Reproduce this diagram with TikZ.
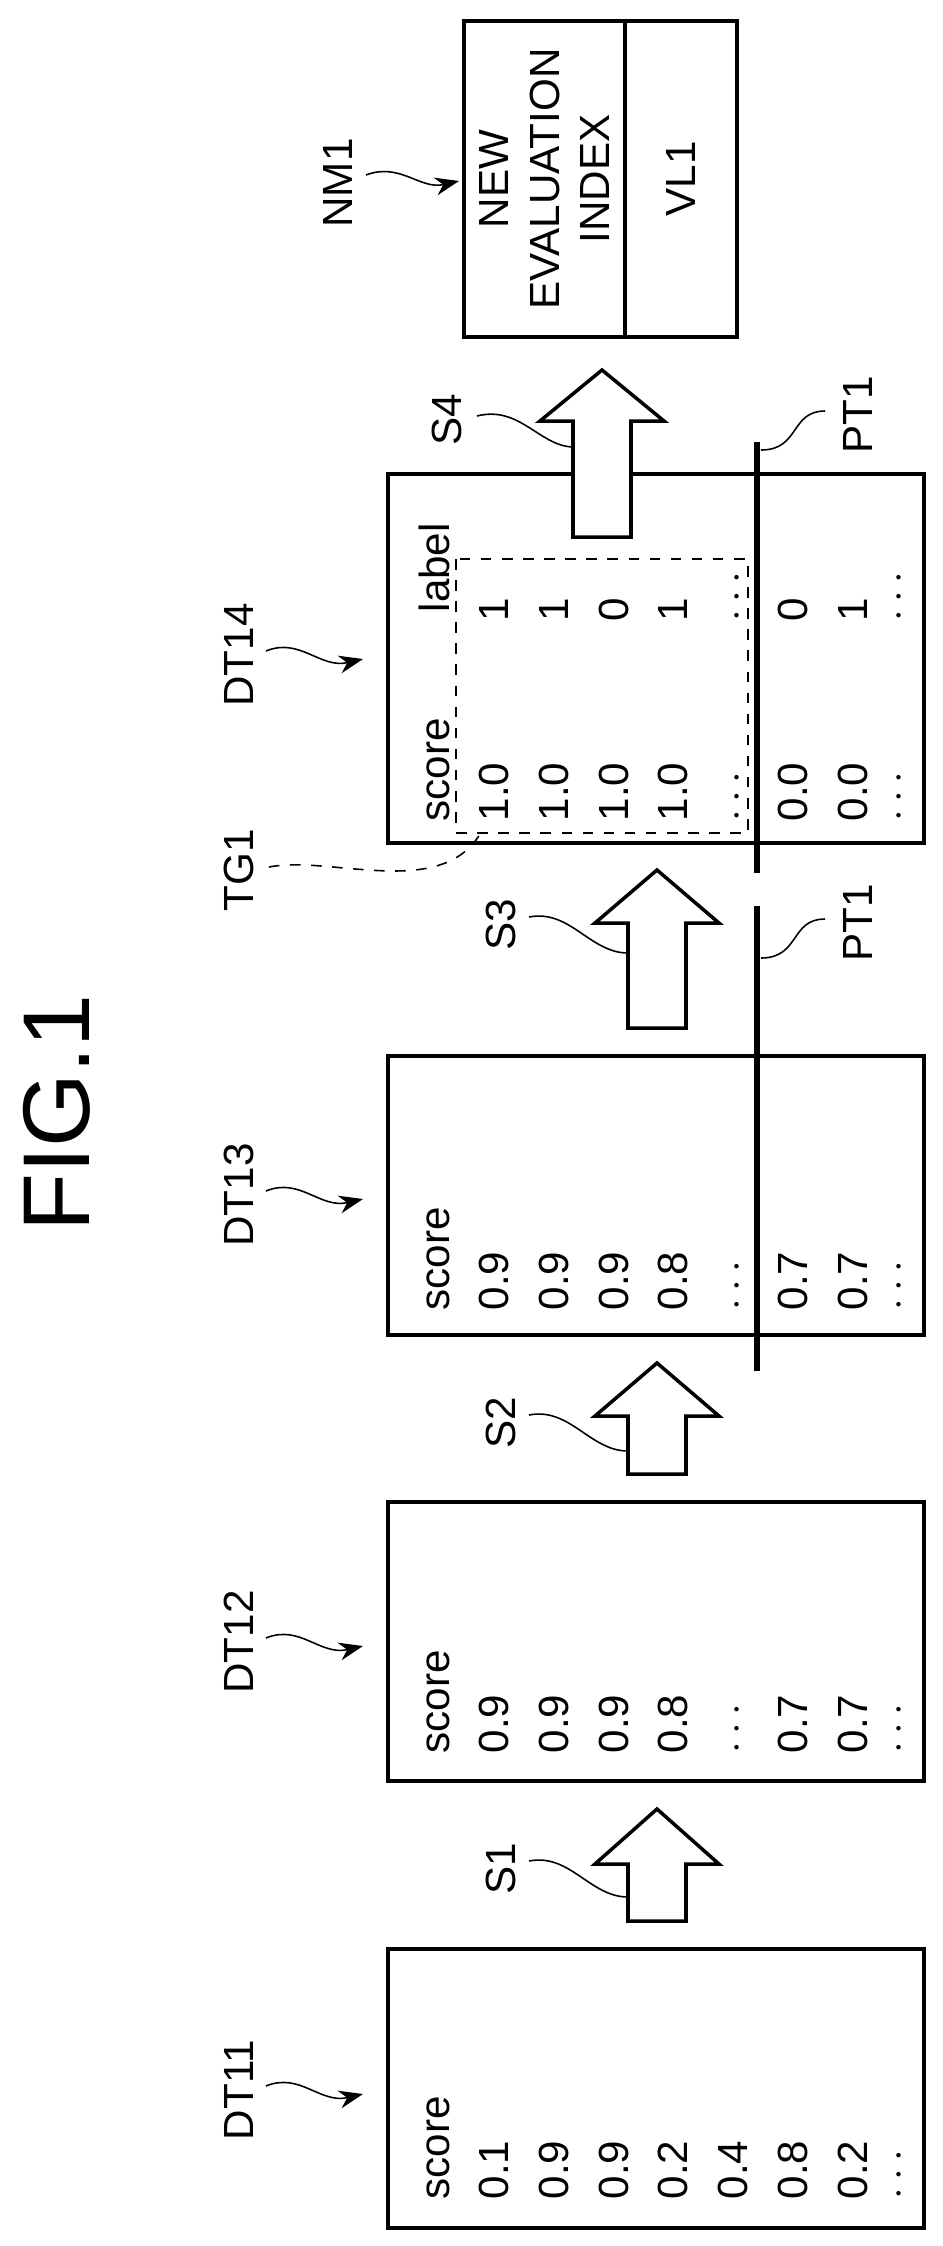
\documentclass[tikz,border=0pt]{standalone}
\usepackage{fontspec}
\setmainfont{Liberation Sans}
\usetikzlibrary{arrows.meta}

\newcommand{\steparrow}[4]{% centre x, tip, head base, shaft bottom
  \draw[step_arrow] ({#1-29},#4) -- ({#1-29},#3) -- ({#1-62},#3) -- (#1,#2)
    -- ({#1+62},#3) -- ({#1+29},#3) -- ({#1+29},#4) -- cycle;}

\begin{document}
\begin{tikzpicture}[x=0.1mm, y=-0.1mm,
        table_box/.style={draw=black, line width=1pt, minimum width=53.6mm, inner sep=0pt},
        cell/.style={rotate=90, anchor=west, inner sep=0pt, font=\fontsize{12}{14}\selectfont, text height=8.6pt, text depth=0pt},
        ref_label/.style={rotate=90, inner sep=1pt, font=\fontsize{12}{14}\selectfont},
        leader/.style={line width=0.45pt, -{Stealth[length=2.4mm, width=1.8mm]}},
        leader_plain/.style={line width=0.45pt},
        step_arrow/.style={draw=black, fill=white, line width=1pt, line join=miter},
        cut_line/.style={line width=1.8pt}
        ]
            \useasboundingbox (0,0) rectangle (943,2246);

            % title
            \node[rotate=90, font=\fontsize{27}{30}\selectfont] (fig) at (57,1113) {FIG.1};

            % tables
            \node[table_box, minimum height=27.9mm] (dt11) at (656,2088.5) {};
            \node[table_box, minimum height=27.9mm] (dt12) at (656,1641.5) {};
            \node[table_box, minimum height=27.9mm] (dt13) at (656,1195.5) {};
            \node[table_box, minimum height=36.9mm] (dt14) at (656,658.5)  {};

            % table contents
            \foreach \v [count=\i] in {score,0.1,0.9,0.9,0.2,0.4,0.8,0.2}
                \node[cell] (dt11_r\i) at ({434+59.7*(\i-1)},2200) {\v};
            \node[cell] (dt11_end) at (894,2200) {$\cdots$};
            \foreach \v [count=\i] in {score,0.9,0.9,0.9,0.8,$\cdots$,0.7,0.7}
                \node[cell] (dt12_r\i) at ({434+59.7*(\i-1)},1754) {\v};
            \node[cell] (dt12_end) at (894,1754) {$\cdots$};
            \foreach \v [count=\i] in {score,0.9,0.9,0.9,0.8,$\cdots$,0.7,0.7}
                \node[cell] (dt13_r\i) at ({434+59.7*(\i-1)},1311) {\v};
            \node[cell] (dt13_end) at (894,1311) {$\cdots$};
            \foreach \v [count=\i] in {score,1.0,1.0,1.0,1.0,$\cdots$,0.0,0.0}
                \node[cell] (dt14_s\i) at ({434+59.7*(\i-1)},822) {\v};
            \node[cell] (dt14_send) at (894,822) {$\cdots$};
            \node[cell] (dt14_l1) at (434,613) {label};
            \foreach \v [count=\i from 2] in {1,1,0,1,$\cdots$,0,1}
                \node[cell] (dt14_l\i) at ({434+59.7*(\i-1)},622) {\v};
            \node[cell] (dt14_lend) at (894,622) {$\cdots$};

            % target region
            \draw[dashed, line width=0.6pt] (456,559) rectangle (748,833);

            % new evaluation index
            \node[draw, line width=1pt, minimum width=16.1mm, minimum height=31.6mm, inner sep=0pt] (nm1) at (544.5,179) {};
            \node[draw, line width=1pt, minimum width=11.2mm, minimum height=31.6mm, inner sep=0pt] (vl1) at (681,179) {};
            \node[rotate=90, align=center, font=\fontsize{12}{14.5}\selectfont] (nm1_text) at (nm1) {NEW\\EVALUATION\\INDEX};
            \node[rotate=90, font=\fontsize{12}{14}\selectfont] (vl1_text) at (vl1) {VL1};

            % steps
            \steparrow{657}{1809}{1864}{1921}
            \steparrow{657}{1363}{1416}{1474}
            \steparrow{657}{870}{923}{1028}
            \steparrow{602}{370}{421}{537}

            % cut lines
            \coordinate (pt1a_top) at (757,442);
            \coordinate (pt1a_bot) at (757,873);
            \coordinate (pt1b_top) at (757,906);
            \coordinate (pt1b_bot) at (757,1371);
            \draw[cut_line] (pt1a_top) -- (pt1a_bot);
            \draw[cut_line] (pt1b_top) -- (pt1b_bot);

            % reference labels
            \node[ref_label] (dt11_lbl) at (239,2090) {DT11};
            \node[ref_label] (dt12_lbl) at (239,1642) {DT12};
            \node[ref_label] (dt13_lbl) at (239,1195) {DT13};
            \node[ref_label] (dt14_lbl) at (239,655)  {DT14};
            \node[ref_label] (tg1_lbl)  at (239,870)  {TG1};
            \node[ref_label] (nm1_lbl)  at (338,183)  {NM1};
            \node[ref_label] (s1_lbl)   at (501,1869) {S1};
            \node[ref_label] (s2_lbl)   at (501,1423) {S2};
            \node[ref_label] (s3_lbl)   at (501,925)  {S3};
            \node[ref_label] (s4_lbl)   at (447,420)  {S4};
            \node[ref_label] (pt1a_lbl) at (858,415)  {PT1};
            \node[ref_label] (pt1b_lbl) at (858,923)  {PT1};

            % leader lines
            \foreach \n/\c in {dt11/2090,dt12/1642,dt13/1195,dt14/655}
                \draw[leader] (266,\c-4) .. controls (300,\c-18) and (320,\c+14) .. (363,\c+4);
            \draw[leader] (366,175) .. controls (400,162) and (420,190) .. (459,181);
            \draw[leader_plain, dashed] (269,867) .. controls (330,855) and (440,900) .. (480,834);
            \foreach \c in {1861,1415,917}
                \draw[leader_plain] (529,\c) .. controls (570,\c-8) and (590,\c+36) .. (628,\c+36);
            \draw[leader_plain] (477,416) .. controls (520,405) and (540,447) .. (574,447);
            \draw[leader_plain] (761,450) .. controls (800,450) and (790,411) .. (825,411);
            \draw[leader_plain] (761,958) .. controls (800,958) and (790,919) .. (825,919);
\end{tikzpicture}
\end{document}
